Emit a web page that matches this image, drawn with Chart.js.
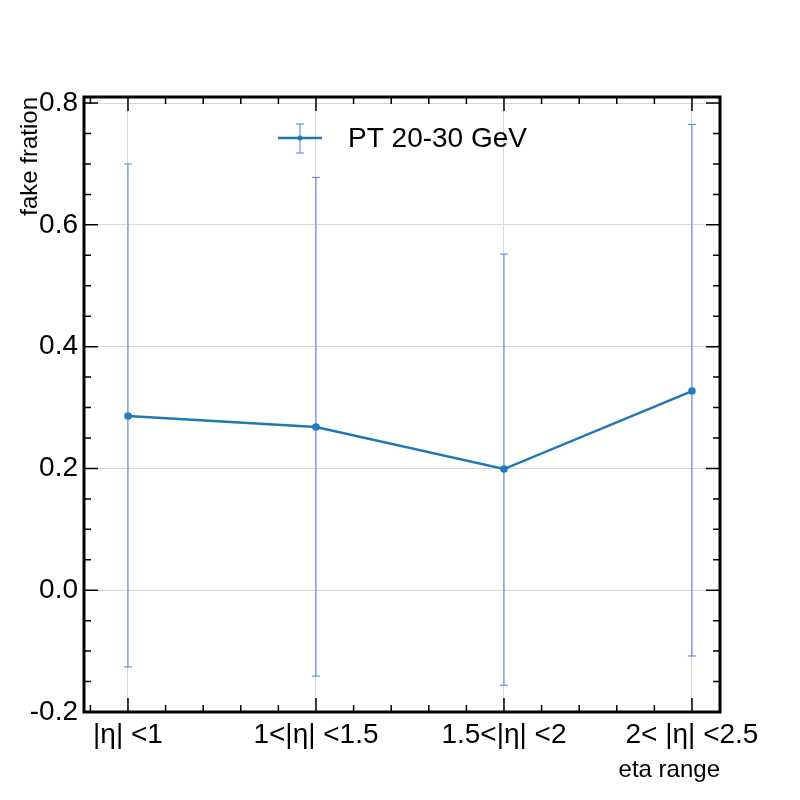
<!DOCTYPE html>
<html><head><meta charset="utf-8">
<script src="https://cdn.jsdelivr.net/npm/chart.js@4"></script>
<style>body{margin:0;background:#fff}</style>
</head><body>
<canvas id="c" width="800" height="800"></canvas>
<script>
const categories = ["|η| <1", "1<|η| <1.5", "1.5<|η| <2", "2< |η| <2.5"];
const fakeFraction = [0.286, 0.268, 0.199, 0.327];
const errUp = [0.700, 0.678, 0.552, 0.765];
const errDown = [-0.126, -0.141, -0.156, -0.108];
const yTicks = [-0.2, 0, 0.2, 0.4, 0.6, 0.8];
const FONT = "'Liberation Sans', Arial, sans-serif";
const blue = "#1f77b4", errBlue = "#4b7fe0";

// error bars, inward ticks, frame, legend and axis titles
const extras = {
  id: "extras",
  afterDatasetsDraw(chart) {
    const ctx = chart.ctx, x = chart.scales.x, y = chart.scales.y, a = chart.chartArea;
    ctx.save();
    ctx.strokeStyle = errBlue; ctx.lineWidth = 1;
    fakeFraction.forEach((v, i) => {
      const px = x.getPixelForValue(i), t = y.getPixelForValue(errUp[i]), b = y.getPixelForValue(errDown[i]);
      ctx.beginPath();
      ctx.moveTo(px, t); ctx.lineTo(px, b);
      ctx.moveTo(px - 4, t); ctx.lineTo(px + 4, t);
      ctx.moveTo(px - 4, b); ctx.lineTo(px + 4, b);
      ctx.stroke();
    });
    ctx.strokeStyle = "#000"; ctx.lineWidth = 1.5;
    ctx.beginPath();
    for (let k = -4; k <= 16; k++) {
      const v = k * 0.05, py = y.getPixelForValue(v);
      const len = k % 4 === 0 ? 14 : 7;
      ctx.moveTo(a.left, py); ctx.lineTo(a.left + len, py);
      ctx.moveTo(a.right, py); ctx.lineTo(a.right - len, py);
    }
    for (let k = -1; k <= 15; k++) {
      const v = k * 0.2, px = x.getPixelForValue(v);
      if (px < a.left || px > a.right) continue;
      const len = k % 5 === 0 ? 14 : 7;
      ctx.moveTo(px, a.bottom); ctx.lineTo(px, a.bottom - len);
      ctx.moveTo(px, a.top); ctx.lineTo(px, a.top + len);
    }
    ctx.stroke();
    ctx.lineWidth = 3;
    ctx.strokeRect(a.left, a.top, a.right - a.left, a.bottom - a.top);
    // legend
    ctx.strokeStyle = blue; ctx.lineWidth = 2.5;
    ctx.beginPath(); ctx.moveTo(278, 138); ctx.lineTo(322, 138); ctx.stroke();
    ctx.strokeStyle = errBlue; ctx.lineWidth = 1;
    ctx.beginPath();
    ctx.moveTo(300, 124); ctx.lineTo(300, 153);
    ctx.moveTo(296, 124); ctx.lineTo(304, 124);
    ctx.moveTo(296, 153); ctx.lineTo(304, 153);
    ctx.stroke();
    ctx.fillStyle = blue; ctx.beginPath(); ctx.arc(300, 138, 2.5, 0, Math.PI * 2); ctx.fill();
    ctx.fillStyle = "#000"; ctx.font = "28px " + FONT; ctx.textBaseline = "middle"; ctx.textAlign = "left";
    ctx.fillText("PT 20-30 GeV", 348, 139);
    // axis titles
    ctx.font = "24px " + FONT; ctx.textAlign = "right";
    ctx.fillText("eta range", 720, 770);
    ctx.translate(30, 97); ctx.rotate(-Math.PI / 2);
    ctx.fillText("fake fration", 0, 0);
    ctx.restore();
  }
};

new Chart(document.getElementById("c"), {
  type: "line",
  data: {
    datasets: [{
      data: fakeFraction.map((v, i) => ({ x: i, y: v })),
      borderColor: blue, backgroundColor: blue, borderWidth: 2.5,
      pointRadius: 2.5, tension: 0
    }]
  },
  options: {
    responsive: false, animation: false,
    layout: { padding: { top: 97, right: 80, left: 0, bottom: 0 } },
    plugins: { legend: { display: false }, tooltip: { enabled: false } },
    scales: {
      x: {
        type: "linear", min: -0.234, max: 3.149,
        afterBuildTicks: s => { s.ticks = [0, 1, 2, 3].map(v => ({ value: v })); },
        afterFit: s => { s.height = 88; },
        ticks: { callback: v => categories[v], font: { size: 28, family: FONT }, color: "#000", maxRotation: 0, autoSkip: false, padding: 6 },
        grid: { color: "#d8d8d8", drawTicks: false },
        border: { display: false }
      },
      y: {
        min: -0.2, max: 0.81,
        afterBuildTicks: s => { s.ticks = yTicks.map(v => ({ value: v })); },
        afterFit: s => { s.width = 84; },
        ticks: { callback: v => v.toFixed(1), font: { size: 28, family: FONT }, color: "#000", padding: 6 },
        grid: { color: "#d8d8d8", drawTicks: false },
        border: { display: false }
      }
    }
  },
  plugins: [extras]
});
</script>
</body></html>
